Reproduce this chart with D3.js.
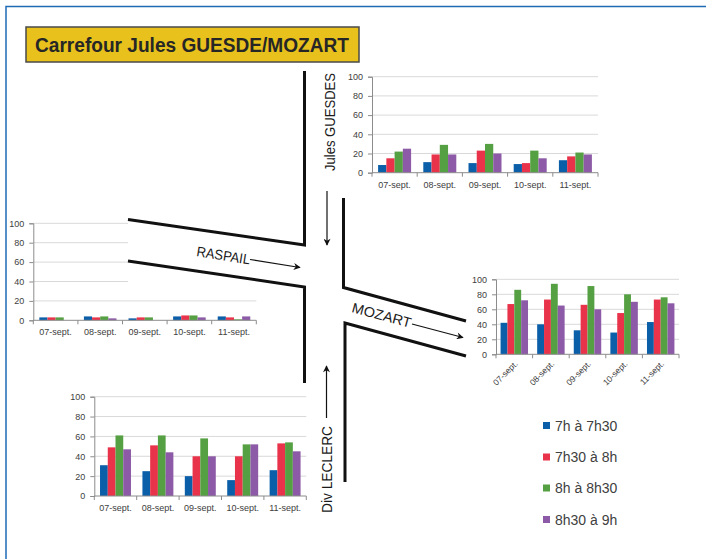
<!DOCTYPE html>
<html><head><meta charset="utf-8">
<script src="https://cdn.jsdelivr.net/npm/d3@7"></script>
<style>
html,body{margin:0;padding:0;background:#fff;}
svg{display:block;}
</style></head>
<body>
<script>
// ---- data ----
const categories = ["07-sept.","08-sept.","09-sept.","10-sept.","11-sept."];
const seriesNames = ["7h à 7h30","7h30 à 8h","8h à 8h30","8h30 à 9h"];
const seriesColors = ["#0b5ea8","#e8334a","#55a043","#8c5aa6"];
const yTicks = [0,20,40,60,80,100];
// values per series (rows) and category (columns)
const julesGuesdes = [[8,11,10,9,13],[15,19,23,10,17],[22,29,30,23,21],[25,19,20,15,19]];
const raspail      = [[3,4,2,4,4],[3,3,3,5,3],[3,4,3,5,1],[0,2,0,3,4]];
const mozart       = [[42,40,32,29,43],[67,73,66,55,73],[86,94,91,80,76],[72,65,60,70,68]];
const divLeclerc   = [[31,25,20,16,26],[49,51,40,40,53],[61,61,58,52,54],[47,44,40,52,45]];
const titleText = "Carrefour Jules GUESDE/MOZART";

const W = 706, H = 559;
const FONT = "'Liberation Sans',Arial,sans-serif";
const svg = d3.select("body").append("svg").attr("width", W).attr("height", H);

// outer frame (top and left edges)
svg.append("path").attr("d", `M6,${H} L6,6.5 L${W},6.5`).attr("fill","none")
  .attr("stroke","#1f6bb5").attr("stroke-width",1.5);

// title
const tg = svg.append("g");
tg.append("rect").attr("x",26).attr("y",27).attr("width",333).attr("height",35)
  .attr("fill","#e8c11d").attr("stroke","#4a4a4a").attr("stroke-width",1.5);
tg.append("text").attr("x",35).attr("y",51.5)
  .attr("font-family",FONT).attr("font-weight","bold").attr("font-size",20)
  .attr("textLength",314).attr("lengthAdjust","spacingAndGlyphs")
  .attr("fill","#262626").text(titleText);

function drawChart(values, box, opts) {
  opts = opts || {};
  const g = svg.append("g");
  const x = d3.scaleBand().domain(categories).range([box.x, box.x + box.w])
    .paddingInner(opts.pad || 0.27).paddingOuter((opts.pad || 0.27) / 2);
  const xs = d3.scaleBand().domain(d3.range(seriesNames.length)).range([0, x.bandwidth()]);
  const y = d3.scaleLinear().domain([0, 100]).range([box.y + box.h, box.y]);
  // gridlines
  g.append("g").selectAll("line").data(yTicks.filter(t => t > 0)).join("line")
    .attr("x1", box.x).attr("x2", box.x + box.w)
    .attr("y1", d => y(d)).attr("y2", d => y(d))
    .attr("stroke", "#d9d9d9").attr("stroke-width", 1);
  // y axis
  const ya = g.append("g").attr("transform", `translate(${box.x},0)`)
    .call(d3.axisLeft(y).tickValues(yTicks).tickSize(4).tickPadding(5).tickFormat(d3.format("d")));
  ya.select(".domain").attr("stroke", "#8c8c8c");
  ya.selectAll(".tick line").attr("stroke", "#8c8c8c");
  ya.selectAll("text").attr("font-family", FONT).attr("font-size", opts.fy || 9).attr("fill", "#404040");
  // bars
  categories.forEach((c, i) => {
    g.append("g").selectAll("rect").data(values.map((row, s) => ({s, v: row[i]}))).join("rect")
      .attr("x", d => x(c) + xs(d.s)).attr("width", xs.bandwidth())
      .attr("y", d => y(d.v)).attr("height", d => y(0) - y(d.v))
      .attr("fill", d => seriesColors[d.s]);
  });
  // x axis line + boundary ticks
  const y0 = y(0);
  g.append("line").attr("x1", box.x).attr("x2", box.x + box.w).attr("y1", y0).attr("y2", y0)
    .attr("stroke", "#8c8c8c");
  g.append("g").selectAll("line").data(d3.range(categories.length + 1)).join("line")
    .attr("x1", i => box.x + i * x.step()).attr("x2", i => box.x + i * x.step())
    .attr("y1", y0).attr("y2", y0 + 4).attr("stroke", "#8c8c8c");
  // category labels
  const lab = g.append("g").selectAll("text").data(categories).join("text")
    .attr("font-family", FONT).attr("font-size", opts.fx || 9).attr("fill", "#404040").text(d => d);
  if (opts.rotate) {
    lab.attr("text-anchor", "end")
      .attr("transform", d => `translate(${x(d) + x.bandwidth() / 2 + 4},${y0 + 10}) rotate(-45)`);
  } else {
    lab.attr("text-anchor", "middle").attr("x", d => x(d) + x.bandwidth() / 2).attr("y", y0 + 15);
  }
  return g;
}

drawChart(julesGuesdes, {x: 372, y: 76.7, w: 226, h: 96});
drawChart(raspail, {x: 33.3, y: 223.3, w: 223, h: 97});
// road passes over the RASPAIL chart's upper right part
svg.append("rect").attr("x", 128).attr("y", 214).attr("width", 135).attr("height", 78).attr("fill", "#fff");
drawChart(mozart, {x: 496, y: 279.3, w: 183, h: 75}, {rotate: true, fx: 8.5, pad: 0.25});
drawChart(divLeclerc, {x: 94.3, y: 396.7, w: 212, h: 99.3});

// roads
const road = svg.append("g").attr("fill", "none").attr("stroke", "#111").attr("stroke-width", 3)
  .attr("stroke-linejoin", "miter");
road.append("polyline").attr("points", "304.5,71 304.5,245 128,219.5");
road.append("polyline").attr("points", "128,261 304.5,287 304.5,383");
road.append("polyline").attr("points", "343.5,198 343.5,287.5 466,321");
road.append("polyline").attr("points", "466,356 345,323 345,482");

// arrows
const defs = svg.append("defs");
defs.append("marker").attr("id", "ah").attr("viewBox", "0 0 10 10").attr("refX", 9).attr("refY", 5)
  .attr("markerWidth", 9).attr("markerHeight", 7).attr("markerUnits", "userSpaceOnUse").attr("orient", "auto")
  .append("path").attr("d", "M0,0 L10,5 L0,10 L3,5 Z").attr("fill", "#111");
const arr = svg.append("g").attr("stroke", "#111").attr("stroke-width", 1.2).attr("marker-end", "url(#ah)");
arr.append("line").attr("x1", 327).attr("y1", 191).attr("x2", 327).attr("y2", 245);
arr.append("line").attr("x1", 326.5).attr("y1", 418).attr("x2", 326.5).attr("y2", 366);
arr.append("line").attr("x1", 250).attr("y1", 259.5).attr("x2", 300).attr("y2", 267.5);
arr.append("line").attr("x1", 412).attr("y1", 324).attr("x2", 463).attr("y2", 337.5);

// street names
const lbl = (t, x, y, rot, len, fs) => svg.append("text").attr("font-family", FONT).attr("font-size", fs)
  .attr("fill", "#1a1a1a").attr("textLength", len).attr("lengthAdjust", "spacingAndGlyphs")
  .attr("transform", `translate(${x},${y}) rotate(${rot})`).text(t);
lbl("Jules GUESDES", 334.5, 171, -90, 98, 14);
lbl("Div LECLERC", 332, 513, -90, 87, 14);
lbl("RASPAIL", 196, 256, 9, 54, 14);
lbl("MOZART", 351, 312, 15, 61, 14);

// legend
const lg = svg.append("g").selectAll("g").data(seriesNames).join("g")
  .attr("transform", (d, i) => `translate(543,${[425.5, 457, 488, 519.5][i]})`);
lg.append("rect").attr("x", 0).attr("y", -3.5).attr("width", 7).attr("height", 7)
  .attr("fill", (d, i) => seriesColors[i]);
lg.append("text").attr("x", 12).attr("y", 5).attr("font-family", FONT).attr("font-size", 14)
  .attr("fill", "#404040").text(d => d);
</script>
</body></html>
